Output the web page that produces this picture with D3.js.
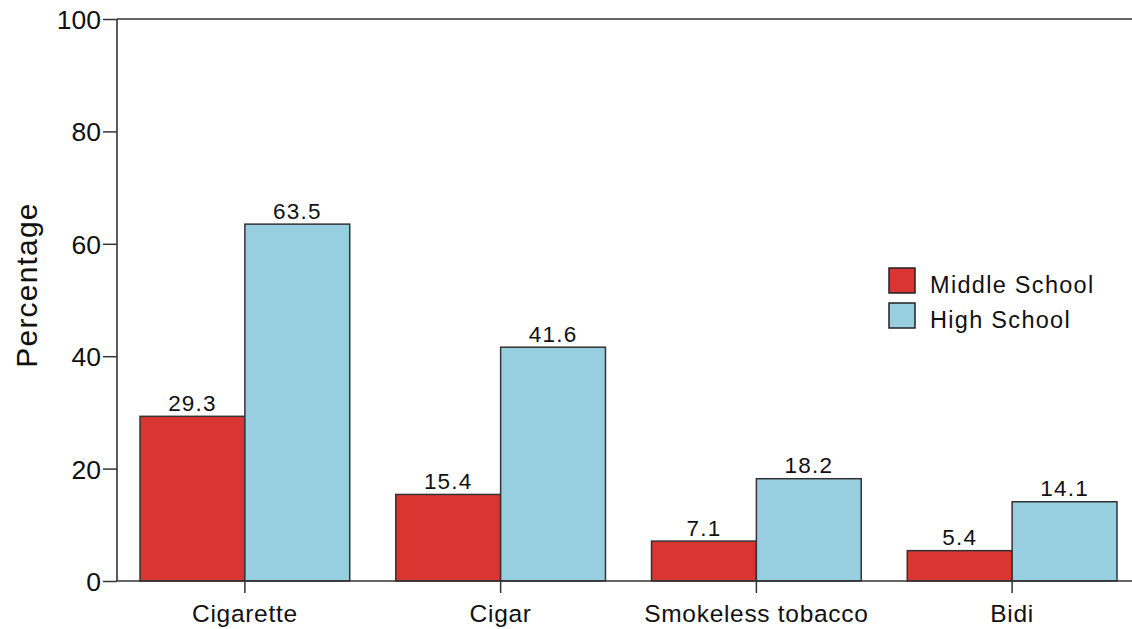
<!DOCTYPE html>
<html><head><meta charset="utf-8">
<script src="https://cdn.jsdelivr.net/npm/d3@7"></script>
<style>body{margin:0;background:#fff}svg{display:block}text{font-family:"Liberation Sans",Arial,sans-serif;fill:#111}</style>
</head><body>
<script>
const categories = ["Cigarette", "Cigar", "Smokeless tobacco", "Bidi"];
const seriesNames = ["Middle School", "High School"];
const middleSchool = [29.3, 15.4, 7.1, 5.4];
const highSchool = [63.5, 41.6, 18.2, 14.1];
const yTicks = [0, 20, 40, 60, 80, 100];
const colors = ["#db3532", "#97cfe0"];

const W = 1132, H = 629;
const svg = d3.select("body").append("svg").attr("width", W).attr("height", H);
const x0 = 117, yTop = 19, yBot = 581;
const x = d3.scaleBand().domain(categories).range([x0, 1140]).paddingInner(0.18).paddingOuter(0.09);
const xs = d3.scaleBand().domain(seriesNames).range([0, x.bandwidth()]);
const y = d3.scaleLinear().domain([0, 100]).range([yBot, yTop]);
const values = [middleSchool, highSchool];
const stroke = "#333";
const ff = '"Liberation Sans", Arial, sans-serif';

// bars
categories.forEach((c, i) => {
  seriesNames.forEach((s, j) => {
    const v = values[j][i];
    svg.append("rect")
      .attr("x", x(c) + xs(s)).attr("y", y(v))
      .attr("width", xs.bandwidth()).attr("height", y(0) - y(v))
      .attr("fill", colors[j]).attr("stroke", stroke).attr("stroke-width", 1.5);
    svg.append("text")
      .attr("x", x(c) + xs(s) + xs.bandwidth() / 2).attr("y", y(v) - 5.5)
      .attr("text-anchor", "middle").attr("font-size", 22.5).attr("letter-spacing", 1.2)
      .text(v.toFixed(1));
  });
});

// top line
svg.append("line").attr("x1", x0).attr("x2", W).attr("y1", y(100)).attr("y2", y(100))
  .attr("stroke", stroke).attr("stroke-width", 1.6);

// y axis
const yAxis = svg.append("g").attr("transform", `translate(${x0},0)`)
  .call(d3.axisLeft(y).tickValues(yTicks).tickSize(14).tickPadding(2));
yAxis.select(".domain").remove();
yAxis.append("line").attr("x1", 0).attr("x2", 0).attr("y1", y(100)).attr("y2", y(0))
  .attr("stroke", stroke).attr("stroke-width", 1.6);
yAxis.selectAll(".tick line").attr("stroke", stroke).attr("stroke-width", 1.5);
yAxis.selectAll(".tick text").attr("font-size", 26.5).attr("fill", "#111").attr("dy", "0.36em")
  .style("font-family", ff);

// x axis
const xAxis = svg.append("g").attr("transform", `translate(0,${yBot})`)
  .call(d3.axisBottom(x).tickSize(12).tickPadding(6));
xAxis.select(".domain").remove();
xAxis.append("line").attr("x1", x0).attr("x2", W).attr("y1", 0).attr("y2", 0)
  .attr("stroke", stroke).attr("stroke-width", 1.6);
xAxis.selectAll(".tick line").attr("stroke", stroke).attr("stroke-width", 1.5);
xAxis.selectAll(".tick text").attr("font-size", 24.5).attr("letter-spacing", 0.7).attr("fill", "#111")
  .attr("dy", "0.92em").style("font-family", ff);

// y label
svg.append("text").attr("transform", "translate(37,285) rotate(-90)")
  .attr("text-anchor", "middle").attr("font-size", 30).attr("letter-spacing", 1.2)
  .text("Percentage");

// legend
const lg = svg.append("g").attr("transform", "translate(889,268)");
seriesNames.forEach((s, j) => {
  lg.append("rect").attr("x", 0).attr("y", j * 35).attr("width", 26).attr("height", 25)
    .attr("fill", colors[j]).attr("stroke", "#222").attr("stroke-width", 1.5);
  lg.append("text").attr("x", 41).attr("y", j * 35 + 25).attr("font-size", 23.5)
    .attr("letter-spacing", 1.3).text(s);
});
</script>
</body></html>
